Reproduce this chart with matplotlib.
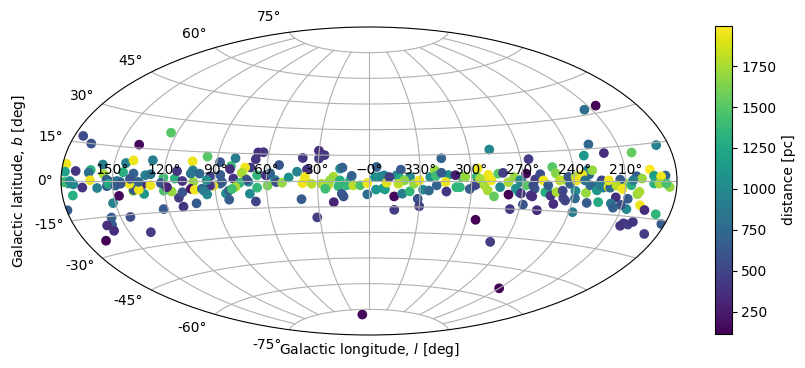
import numpy as np
import matplotlib
matplotlib.use("Agg")
import matplotlib.pyplot as plt

# galactic longitude [deg]
l_deg = [178.7,175.7,149.4,153.3,145.5,132.9,87,84,87,70.5,
         72.5,55,20.8,23.8,351.6,353.6,11,336,290.2,305.8,
         313.6,297,343.8,270.7,263,245.4,274,226,226.9,223,210.3,
         174.9,167.7,139.1,123.8,178,178,171.8,178,174.9,172.8,
         167.7,173.9,179.5,163.1,164.1,156.5,163,159.1,155.3,153.4,
         147.3,152.4,148.3,151.4,146.9,155.5,157.5,160.6,158.5,167.7,
         144.2,137.1,122.7,110.5,102.3,112,109.4,115.6,120.2,127.8,
         132,138.1,137.8,134.8,140.1,137.8,144,143.2,139.1,127.8,
         134.8,130.9,127.8,139.7,145.2,120.2,113.5,112.5,121.7,118.2,
         109.1,102.7,104.3,102.1,104.3,103.3,104.3,99.2,96.1,88,
         81.2,79.3,81.6,66.5,67.2,69.6,72.8,74.5,79.3,71.6,
         75.7,65.5,59.8,65.5,70,67,59.3,82.2,82.6,78.2,
         80.3,85.9,91,92.9,92.9,94.9,97.8,95.1,96.8,
         53,63.4,60.4,57.9,54.2,50.8,47,42.2,39.4,36.4,
         30.2,26.6,29.7,37.4,38.9,33.5,27.6,25.6,22.8,17,
         15.6,17,13.1,17.9,10.1,9.2,16,15,20.9,39.9,
         31.7,5.1,1,1,355.5,356.5,355.9,350.7,351.2,349.7,
         348.1,345.2,344.8,340.5,341.3,341.9,339.3,342.8,336.1,333.7,
         330.5,331.2,330,328.3,324.9,324.2,320.4,321.4,320.8,317,
         317.6,315.2,314.6,309.4,308.9,306.8,303.7,301,296.1,297,
         294.5,
         287.4,290.5,298.1,292.5,290.5,286.4,295.2,288.4,284.3,281.5,
         283.3,278.6,275.1,278,275.6,279.5,265.4,268,262.8,271.7,
         272,270.8,268,263.9,264.9,263.9,268.5,259.3,259.8,258.1,
         256.6,254.2,253.2,250.6,255.2,252.3,250.6,248.5,250,245.5,
         244.1,246.5,243.4,242.4,239.3,238.6,239,238.6,237.8,232.2,
         227,219.9,203.5,187.2,195.3,186.6,184.1,188.2,182,188.2,
         205.6,204.5,201.5,199.4,206.6,199.4,195.8,202.5,201.5,214.8,
         207.6,210.7,216.8,214.8,224.5,231.1,232.7,231.1,232.2,229.1,
         230.6,226.5,224,225,221.9,219.9,218.9,219.9,213.2,215.3,
         211.7,206.6,203.5,200.4,193.3,193.3,189.2,190.2,186.1,205.6,
         235.2,233.7,240,13.5,214.5,205]

# galactic latitude [deg]
b_deg = [-0.4,-0.9,-0.3,-2.2,-0.3,-1.9,-1.4,-6.6,3.2,-0.4,
         1.5,0.6,2.5,-2.3,-4.2,2.5,0.5,2.4,3.4,2.4,
         3.4,2.4,3.4,-0.4,-4,0.6,-4,-1.8,-3,-3,-1,
         17.5,15,16.5,23.3,6.5,3.5,3.9,-0.4,0,-1.3,
         -2.6,-5.6,-11,4.5,3.4,6.9,0.3,-2.9,2.9,0.6,
         0,-1.2,-2,-9.5,-6.5,-15.5,-18.5,-18.5,-21,-24.3,
         -16,-23.6,-13.5,-12.8,-11.4,-8.3,-5.6,-5.2,-4.7,-2,
         -6,-4.5,-4,-4,-1.3,3.4,3.9,8,9.3,9.8,
         -0.4,2.7,3.2,1,-1.2,1.6,1.2,4.9,-1,-3,
         0,-0.5,-4,-4.5,10,5.4,3.8,3.8,12.7,10,
         8,12.3,6.4,15.8,12,7.4,7.4,4.4,1.3,0.7,
         -1.1,3.2,3.2,-3.7,-7,-11.3,-2.5,-5.2,-10,-3.3,
         -4.3,-0.6,-2.6,-2.4,2.5,0.4,-4,-7,-5,
         9,16,3.2,4.3,-0.6,-1,2,5.3,13.2,6.6,
         17.5,15,13,2.3,-1.2,-1.6,-1.6,-4.5,0.4,7.2,
         7.8,0.4,-2.5,-3,3,-2.5,-7.4,-9,-12.3,-10.4,
         -21,-2.5,-7.8,-1.2,8.2,2.3,-5,-4.9,3.3,-1,
         2.3,-9,-16.8,-7.4,6.6,1.4,0.4,-1.6,-6,-1.6,
         0.4,-10.3,-14.6,-5,-5.5,2.3,-2.5,6.2,3,13,
         4.7,-0.6,-6,3.3,-3.5,-3.5,2.3,-4.5,7,-1.6,
         -21.5,
         17.2,2,-2.4,-2.3,-5.1,-8.4,1.3,0.4,4,4.4,
         -3.3,-0.6,2.1,-7.3,-15,-33,11.4,3.9,0.8,0.4,
         -6,-6.6,-2.3,-2.3,-7.5,-8,-12.4,-15,3.5,0.3,
         -5.7,-6.2,-7.4,-11.5,-2.2,7,3.8,0.3,-5.5,-8.5,
         -9.6,-4.8,2,-1.4,2,0.3,-4.8,-8.4,-15,12,
         17,12.6,12,14,4.6,2.1,-2.3,-13,-16.4,-21,
         -19.2,-18,-18.3,-17,-12,-10,-11.8,-5.5,-4.5,-7.2,
         -7.6,-10.4,-10,-11.8,-9.7,-10.3,-5.6,3.1,5,5,
         -2,-4.3,0.3,-2,-2,-2.7,-3,0.3,0.6,-2,
         -3.5,-1.8,2,1,2.1,-1,1.8,-1,-1,0.3,
         3,0.3,-55,-78,32.3,33]

# distance [pc]
dist_pc = [1600,1050,600,650,950,350,700,1050,650,1000,
           1750,1050,1750,1800,1100,950,1300,1000,1950,1500,
           1050,1350,1000,700,650,1750,1050,1050,750,950,1750,
           550,600,150,1500,1950,1200,400,1400,1000,1000,
           400,1300,650,1300,800,900,1950,950,1750,650,
           850,1250,700,950,150,650,650,350,350,113,
           550,450,650,400,650,450,600,1700,1450,1950,
           1100,1650,600,1950,1950,700,1300,950,1950,900,
           700,950,800,600,600,1400,1300,400,600,300,
           400,1700,200,1950,1950,900,850,750,1500,600,
           1400,900,350,350,400,450,1950,1750,400,550,
           1350,1350,500,1350,1000,500,1600,700,650,1750,
           1400,650,1950,400,500,1050,700,1000,900,
           600,400,400,700,550,1700,1050,950,400,400,
           350,400,450,1950,1950,1800,1750,1400,1700,1050,
           700,1300,1350,1350,700,1800,650,600,300,650,
           450,1450,800,1950,700,1050,1100,1150,950,1900,
           450,150,450,900,650,1250,1650,1800,1350,1700,
           1950,600,450,1000,750,1050,700,1700,1400,700,
           650,1950,400,250,1350,1350,1700,650,1950,500,
           120,
           1000,1950,500,1750,1750,1550,1750,1950,1500,450,
           1000,1750,1700,120,400,450,450,150,450,1000,
           1050,400,1500,550,400,350,600,350,550,1950,
           1300,1250,400,350,650,1500,1650,1800,1750,450,
           500,500,600,700,1750,1950,1000,750,900,1100,
           750,350,1550,950,1995,700,1700,1350,650,450,
           400,400,450,400,1000,1950,350,1700,1750,350,
           650,550,850,700,1250,650,1700,700,950,1700,
           750,1100,500,900,950,1950,750,1950,650,1800,
           1950,1300,650,1700,1150,1300,1950,1750,1450,900,
           1950,800,120,150,800,130]

lon_labels = ['150°', '120°', '90°', '60°', '30°', '\u22120°',
              '330°', '300°', '270°', '240°', '210°']

W, H = 805, 368
fig = plt.figure(figsize=(W/100, H/100), dpi=100)
ax = fig.add_axes([61/W, (H-335)/H, 616/W, 308/H], projection='aitoff')

# longitude increases to the left, wrapped around the galactic centre
lon = -np.radians((np.array(l_deg) + 180) % 360 - 180)
lat = np.radians(b_deg)
sc = ax.scatter(lon, lat, c=dist_pc, cmap='viridis')

ax.set_xticklabels(lon_labels)
ax.grid(True)
ax.set_xlabel('Galactic longitude, $l$ [deg]')
ax.set_ylabel('Galactic latitude, $b$ [deg]')

cax = fig.add_axes([715/W, (H-334)/H, 16.5/W, 308/H])
cb = fig.colorbar(sc, cax=cax)
cb.set_label('distance [pc]')

fig.savefig('out.png', dpi=100)
